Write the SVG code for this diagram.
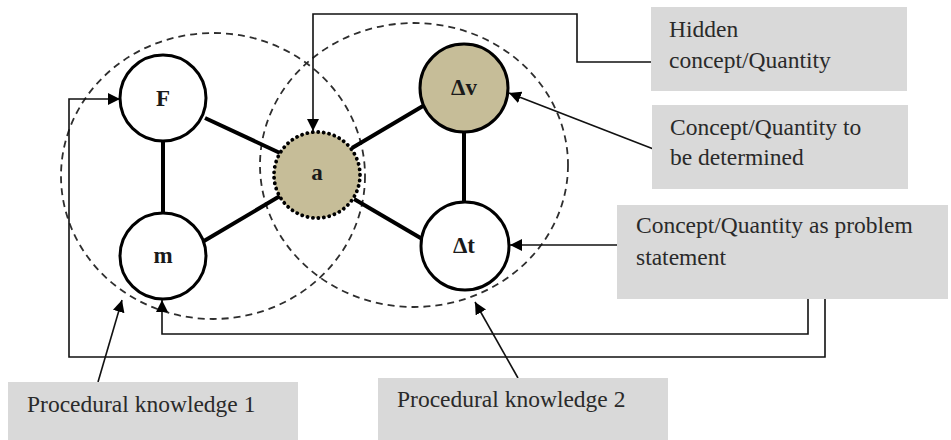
<svg xmlns="http://www.w3.org/2000/svg" width="951" height="440" viewBox="0 0 951 440">
<style>
.bg{fill:#ffffff}
.zone{fill:none;stroke:#2e2e2e;stroke-width:1.8;stroke-dasharray:7 5}
.edge{stroke:#000;stroke-width:4;stroke-linecap:butt}
.node{fill:#ffffff;stroke:#000;stroke-width:3}
.key{fill:#c6bd98;stroke:#000;stroke-width:3}
.hidden{fill:#c6bd98;stroke:#000;stroke-width:3.8;stroke-dasharray:0.1 5.4;stroke-linecap:round}
.lbl{font-family:"Liberation Serif","Times New Roman",serif;font-weight:bold;font-size:23px;fill:#1a1a1a;text-anchor:middle}
.box{fill:#d9d9d9}
.txt{font-family:"Liberation Serif","Times New Roman",serif;font-size:23.5px;fill:#2a2a2a}
.conn{fill:none;stroke:#111;stroke-width:1.6}
</style>
<defs>
<marker id="arrL" viewBox="0 0 10 10" refX="10" refY="5" markerWidth="12" markerHeight="12" markerUnits="userSpaceOnUse" orient="auto">
<path d="M0,0 L10,5 L0,10 z" fill="#000"/>
</marker>
</defs>
<rect class="bg" x="0" y="0" width="951" height="440"/>
<g id="zones">
<ellipse class="zone" cx="213" cy="176" rx="152" ry="143"/>
<ellipse class="zone" cx="414" cy="165" rx="154" ry="142"/>
</g>
<g id="edges">
<line class="edge" x1="163" y1="141" x2="163" y2="213"/>
<line class="edge" x1="205" y1="118" x2="280" y2="153"/>
<line class="edge" x1="204" y1="241" x2="280" y2="196"/>
<line class="edge" x1="352" y1="148" x2="423" y2="106"/>
<line class="edge" x1="354" y1="199" x2="424" y2="240"/>
<line class="edge" x1="464" y1="132" x2="464" y2="202"/>
</g>
<g id="connectors">
<polyline class="conn" points="651,62 577,62 577,14 313,14 313,131" marker-end="url(#arrL)"/>
<line class="conn" x1="656" y1="150" x2="509" y2="93" marker-end="url(#arrL)"/>
<line class="conn" x1="617" y1="245" x2="510" y2="245" marker-end="url(#arrL)"/>
<polyline class="conn" points="808,299 808,334 162,334 162,300" marker-end="url(#arrL)"/>
<polyline class="conn" points="825,299 825,357 69,357 69,99 120,99" marker-end="url(#arrL)"/>
<line class="conn" x1="98" y1="382" x2="122" y2="300" marker-end="url(#arrL)"/>
<line class="conn" x1="518" y1="378" x2="475" y2="302" marker-end="url(#arrL)"/>
</g>
<g id="node-F"><circle class="node" cx="163" cy="98" r="43"/><text class="lbl" x="163" y="106">F</text></g>
<g id="node-m"><circle class="node" cx="163" cy="256" r="43"/><text class="lbl" x="163" y="263">m</text></g>
<g id="node-a"><circle class="hidden" cx="317" cy="175" r="43"/><text class="lbl" x="317" y="180">a</text></g>
<g id="node-dv"><circle class="key" cx="464" cy="88" r="44"/><text class="lbl" x="464" y="95">Δv</text></g>
<g id="node-dt"><circle class="node" cx="465" cy="246" r="44"/><text class="lbl" x="464" y="253">Δt</text></g>
<g id="box-hidden"><rect class="box" x="651" y="7" width="256" height="84"/><text class="txt" x="669" y="37">Hidden</text><text class="txt" x="669" y="68">concept/Quantity</text></g>
<g id="box-determined"><rect class="box" x="652" y="105" width="256" height="84"/><text class="txt" x="670" y="135">Concept/Quantity to</text><text class="txt" x="670" y="165">be determined</text></g>
<g id="box-statement"><rect class="box" x="617" y="205" width="331" height="94"/><text class="txt" x="636" y="233">Concept/Quantity as problem</text><text class="txt" x="636" y="265">statement</text></g>
<g id="box-pk1"><rect class="box" x="8" y="382" width="290" height="58"/><text class="txt" x="27" y="412">Procedural knowledge 1</text></g>
<g id="box-pk2"><rect class="box" x="378" y="378" width="290" height="62"/><text class="txt" x="397" y="407">Procedural knowledge 2</text></g>
</svg>
